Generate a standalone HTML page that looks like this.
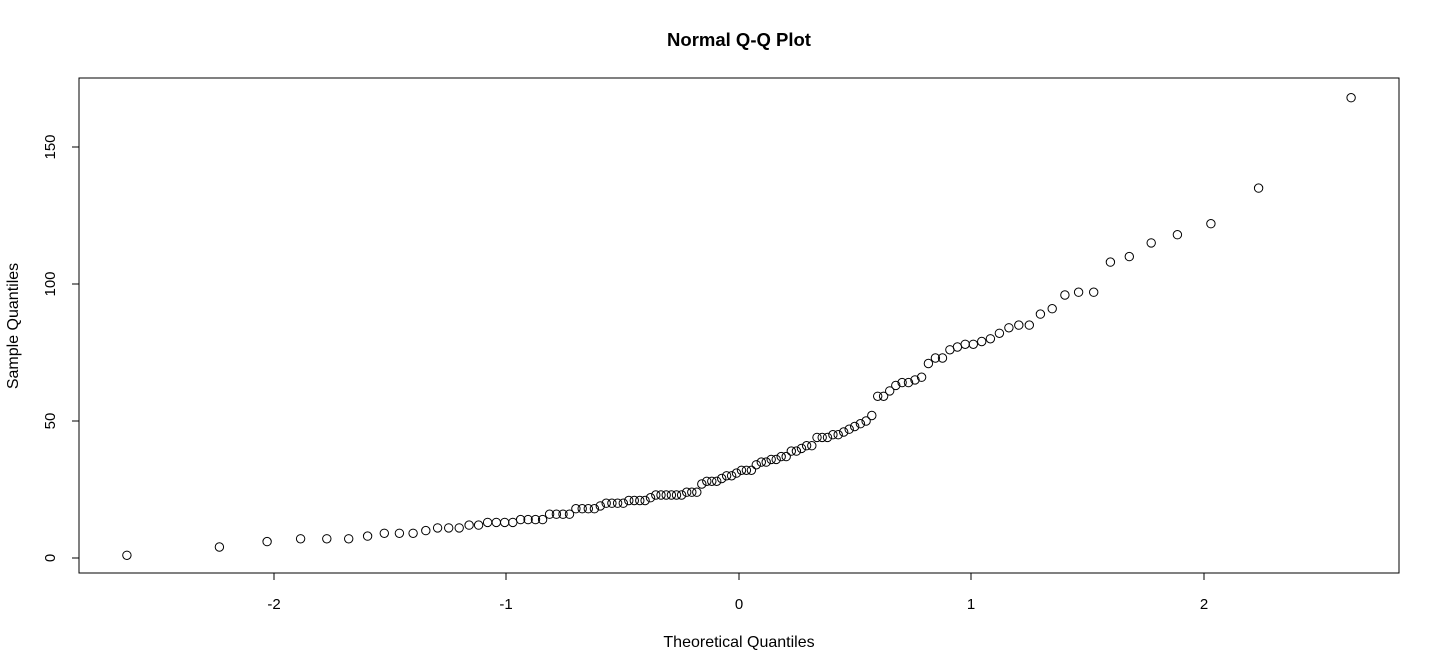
<!DOCTYPE html>
<html><head><meta charset="utf-8"><style>body{margin:0;background:#fff}svg{display:block}text{font-family:"Liberation Sans",sans-serif;fill:#000}</style></head>
<body>
<svg id="s" width="1440" height="672" xmlns="http://www.w3.org/2000/svg">
<rect x="79" y="78" width="1320" height="495" fill="none" stroke="#000"/>
<text x="739" y="46" font-size="18.5" font-weight="bold" text-anchor="middle">Normal Q-Q Plot</text>
<text x="739" y="647" font-size="16" text-anchor="middle">Theoretical Quantiles</text>
<text transform="translate(18,326) rotate(-90)" font-size="16" text-anchor="middle">Sample Quantiles</text>
<g stroke="#000" fill="none">
<line x1="274" y1="573" x2="1204" y2="573"/>
<line x1="274" y1="573" x2="274" y2="580"/><line x1="506" y1="573" x2="506" y2="580"/><line x1="739" y1="573" x2="739" y2="580"/><line x1="971" y1="573" x2="971" y2="580"/><line x1="1204" y1="573" x2="1204" y2="580"/>
<line x1="79" y1="147" x2="79" y2="558"/>
<line x1="72" y1="558" x2="79" y2="558"/><line x1="72" y1="421" x2="79" y2="421"/><line x1="72" y1="284" x2="79" y2="284"/><line x1="72" y1="147" x2="79" y2="147"/>
</g>
<g font-size="15" text-anchor="middle">
<text x="274" y="609">-2</text><text x="506" y="609">-1</text><text x="739" y="609">0</text><text x="971" y="609">1</text><text x="1204" y="609">2</text>
<text transform="translate(55,558) rotate(-90)">0</text><text transform="translate(55,421) rotate(-90)">50</text><text transform="translate(55,284) rotate(-90)">100</text><text transform="translate(55,147) rotate(-90)">150</text>
</g>
<g id="pts" fill="none" stroke="#000" stroke-width="1"></g>
</svg>
<script>
var v=[1,4,6,7,7,7,8,9,9,9,10,11,11,11,12,12,13,13,13,13,14,14,14,14,16,16,16,16,18,18,18,18,19,20,20,20,20,21,21,21,21,22,23,23,23,23,23,23,24,24,24,27,28,28,28,29,30,30,31,32,32,32,34,35,35,36,36,37,37,39,39,40,41,41,44,44,44,45,45,46,47,48,49,50,52,59,59,61,63,64,64,65,66,71,73,73,76,77,78,78,79,80,82,84,85,85,89,91,96,97,97,108,110,115,118,122,135,168];
function qn(p){var a=[-39.69683028665376,220.9460984245205,-275.9285104469687,138.357751867269,-30.66479806614716,2.506628277459239],b=[-54.47609879822406,161.5858368580409,-155.6989798598866,66.80131188771972,-13.28068155288572],c=[-0.007784894002430293,-0.3223964580411365,-2.400758277161838,-2.549732539343734,4.374664141464968,2.938163982698783],d=[0.007784695709041462,0.3224671290700398,2.445134137142996,3.754408661907416];var q,r;
if(p<0.02425){q=Math.sqrt(-2*Math.log(p));return(((((c[0]*q+c[1])*q+c[2])*q+c[3])*q+c[4])*q+c[5])/((((d[0]*q+d[1])*q+d[2])*q+d[3])*q+1);}
if(p>1-0.02425){return -qn(1-p);}
q=p-0.5;r=q*q;return(((((a[0]*r+a[1])*r+a[2])*r+a[3])*r+a[4])*r+a[5])*q/(((((b[0]*r+b[1])*r+b[2])*r+b[3])*r+b[4])*r+1);}
var n=v.length,g=document.getElementById('pts'),h='';
for(var i=0;i<n;i++){var x=739+232.5*qn((i+0.5)/n),y=558-2.74*v[i];h+='<circle cx="'+x.toFixed(1)+'" cy="'+y.toFixed(1)+'" r="4.2"/>';}
g.innerHTML=h;
</script>
</body></html>
